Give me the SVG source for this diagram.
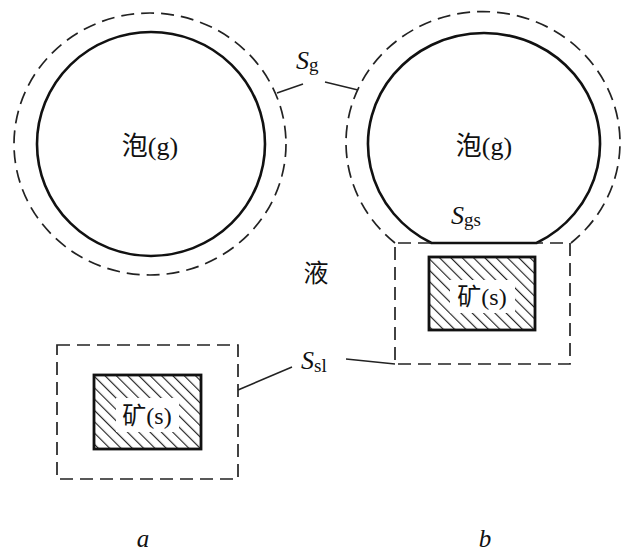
<svg xmlns="http://www.w3.org/2000/svg" width="627" height="555" viewBox="0 0 627 555">
  <style>
    .solid { fill: none; stroke: #111; stroke-width: 2.6; }
    .dash { fill: none; stroke: #222; stroke-width: 1.7; stroke-dasharray: 13 7; }
    .ore { fill: url(#hatch); stroke: #111; stroke-width: 2.8; }
    .lead { fill: none; stroke: #222; stroke-width: 1.5; }
    .cn { font-family: "Noto Sans CJK SC", "Noto Sans", sans-serif; }
    .sr { font-family: "Liberation Serif", "DejaVu Serif", serif; }
    .lbl { font-family: "Liberation Serif", "DejaVu Serif", serif; font-style: italic; fill: #111; }
    text { fill: #111; }
  </style>
  <defs>
    <pattern id="hatch" patternUnits="userSpaceOnUse" width="8" height="8" patternTransform="rotate(-45)">
      <rect width="8" height="8" fill="#fff"/>
      <line x1="0" y1="0" x2="0" y2="8" stroke="#222" stroke-width="2.3"/>
    </pattern>
  </defs>
  <rect width="627" height="555" fill="#fff"/>

  <g id="bubble-a">
    <ellipse class="dash" cx="150" cy="144" rx="136" ry="131"/>
    <ellipse class="solid" cx="151" cy="144" rx="114" ry="112"/>
    <text x="150" y="155" text-anchor="middle" font-size="26"><tspan class="cn">泡</tspan><tspan class="sr">(g)</tspan></text>
  </g>

  <g id="ore-a">
    <rect class="dash" x="57" y="345" width="181" height="134"/>
    <rect class="ore" x="94" y="375" width="107" height="74"/>
    <rect x="116" y="398" width="63" height="34" fill="#fff"/>
    <text x="147" y="424" text-anchor="middle" font-size="24"><tspan class="cn">矿</tspan><tspan class="sr">(s)</tspan></text>
  </g>

  <g id="bubble-b">
    <path class="dash" d="M 395 243 A 137 131 0 1 1 571 243"/>
    <path class="solid" d="M 431.5 243 A 116 111 0 1 1 536.5 243 Z"/>
    <text x="484" y="155" text-anchor="middle" font-size="26"><tspan class="cn">泡</tspan><tspan class="sr">(g)</tspan></text>
  </g>

  <g id="ore-b">
    <path class="dash" d="M 431 243 H 395 V 364 H 570 V 243 H 537"/>
    <rect class="ore" x="429" y="257" width="106" height="73"/>
    <rect x="450" y="280" width="65" height="33" fill="#fff"/>
    <text x="482" y="305" text-anchor="middle" font-size="24"><tspan class="cn">矿</tspan><tspan class="sr">(s)</tspan></text>
  </g>

  <g id="liquid">
    <text class="cn" x="316" y="282" text-anchor="middle" font-size="25">液</text>
  </g>

  <g id="connectors">
    <line class="lead" x1="277" y1="93" x2="303" y2="84"/>
    <line class="lead" x1="325" y1="82" x2="358" y2="90"/>
    <line class="lead" x1="238" y1="390" x2="292" y2="367"/>
    <line class="lead" x1="346" y1="359" x2="395" y2="364"/>
  </g>

  <g id="labels">
    <text x="296" y="69" font-size="26"><tspan class="lbl">S</tspan><tspan class="sr" font-size="19" dy="2">g</tspan></text>
    <text x="451" y="224" font-size="26"><tspan class="lbl">S</tspan><tspan class="sr" font-size="19" dy="2">gs</tspan></text>
    <text x="301" y="369" font-size="26"><tspan class="lbl">S</tspan><tspan class="sr" font-size="19" dy="3">sl</tspan></text>
    <text class="lbl" x="143" y="547" text-anchor="middle" font-size="25">a</text>
    <text class="lbl" x="485" y="547" text-anchor="middle" font-size="25">b</text>
  </g>
</svg>
